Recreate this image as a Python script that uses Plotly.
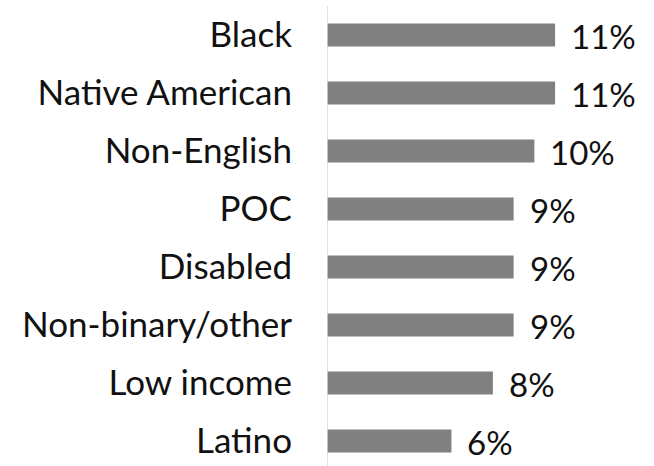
import plotly.graph_objects as go

# Share of respondents by group
groups = ["Black", "Native American", "Non-English", "POC", "Disabled",
          "Non-binary/other", "Low income", "Latino"]
shares = [11, 11, 10, 9, 9, 9, 8, 6]
value_labels = ["11%", "11%", "10%", "9%", "9%", "9%", "8%", "6%"]

FONT = "Lato"
TEXT_COLOR = "#111111"

fig = go.Figure(
    go.Bar(
        x=shares,
        y=groups,
        orientation="h",
        marker=dict(color="#808080", line=dict(width=0)),
        hoverinfo="skip",
    )
)

for g, v, lab in zip(groups, shares, value_labels):
    fig.add_annotation(
        x=v, y=g, text=lab, showarrow=False,
        xanchor="left", yanchor="middle", xshift=14, yshift=-1,
        font=dict(family=FONT, size=33, color=TEXT_COLOR),
    )

fig.update_layout(
    width=654,
    height=466,
    margin=dict(l=327, r=0, t=6, b=0),
    paper_bgcolor="white",
    plot_bgcolor="white",
    bargap=0.6,
    showlegend=False,
    xaxis=dict(range=[0, 15.77], visible=False, fixedrange=True),
    yaxis=dict(
        categoryorder="array",
        categoryarray=groups,
        range=[7.431, -0.5],
        showgrid=False,
        zeroline=False,
        showline=False,
        ticks="",
        ticklabelstandoff=34,
        tickfont=dict(family=FONT, size=35, color=TEXT_COLOR),
        fixedrange=True,
    ),
    shapes=[
        dict(type="line", xref="x", yref="paper", x0=0, x1=0, y0=-0.02, y1=1,
             line=dict(color="#d9d9d9", width=1.5)),
    ],
)

fig.write_html("out.html")
